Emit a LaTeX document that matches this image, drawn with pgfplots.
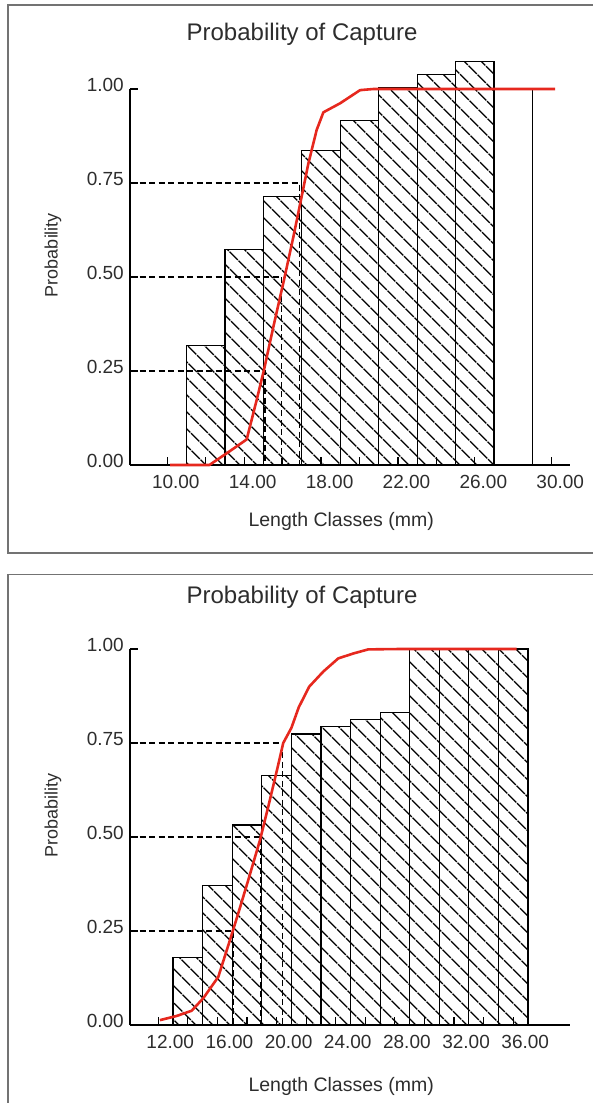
\documentclass[border=0pt]{standalone}
\usepackage{fontspec}
\setmainfont{Liberation Sans}
\usepackage{pgfplots}
\pgfplotsset{compat=1.18}
\usetikzlibrary{patterns.meta}
\definecolor{capred}{RGB}{230,40,30}
\definecolor{txt}{RGB}{45,45,45}
\pgfplotsset{
  pcap/.style={
    scale only axis, width=440pt, height=376pt,
    axis lines=left,
    axis line style={-, line width=1.6pt, black},
    ymin=0, ymax=1,
    ytick={0,0.25,0.5,0.75,1},
    clip=false,
    tick align=inside,
    major tick length=8pt, minor tick length=8pt,
    every tick/.style={black, line width=1.2pt},
    ticklabel style={font=\fontsize{19}{19}\selectfont, text=txt, inner sep=0pt},
    /pgf/number format/fixed,
    /pgf/number format/fixed zerofill,
    /pgf/number format/precision=2,
    /pgf/number format/assume math mode=true,
    yticklabel style={anchor=east, xshift=-6pt, yshift=4pt},
    title={Probability of Capture},
    title style={font=\fontsize{24}{24}\selectfont, text=txt, anchor=base, at={(axis description cs:0.391,1)}, inner sep=0pt},
    xlabel={Length Classes (mm)},
    xlabel style={font=\fontsize{19.5}{19.5}\selectfont, text=txt, anchor=base, at={(axis description cs:0.48,0)}, inner sep=0pt},
    ylabel={Probability},
    ylabel style={font=\fontsize{18}{18}\selectfont, text=txt, anchor=center, at={(axis description cs:-0.175,0.5585)}, inner sep=0pt},
  },
  hbar/.style={ybar, bar width=2, bar shift=0pt, draw=black, line width=1.2pt,
    pattern={Lines[angle=-45, distance=13pt, line width=1.5pt]}, pattern color=black},
  dsh/.style={black, line width=1.2pt, dash pattern=on 6pt off 3.5pt},
  rline/.style={capred, line width=2.6pt, line join=round},
}
\begin{document}
\begin{tikzpicture}[x=1pt,y=1pt]
\useasboundingbox (0,0) rectangle (593,-1103);
\draw[black!55, line width=1.4pt] (8,-5) rectangle (610,-553);
\draw[black!55, line width=1.4pt] (8,-574.5) rectangle (610,-1130);

% ---------------- top chart ----------------
\begin{axis}[pcap, at={(130pt,-465pt)}, anchor=south west,
  xmin=8.06, xmax=30.95,
  xtick={10,14,18,22,26,30}, minor xtick={12,16,20,24,28},
  xticklabel style={anchor=north, yshift=-10pt, xshift=8.5pt},
  title style={yshift=42.3pt},
  xlabel style={yshift=-61.5pt}]
\addplot[hbar] coordinates {(12,0.317) (14,0.574) (16,0.715) (18,0.836) (20,0.917) (22,1.003) (24,1.039) (26,1.073)};
\addplot[ybar, bar width=2, bar shift=0pt, draw=black, fill=white, line width=1.2pt] coordinates {(28,1.0)};
\addplot[dsh] coordinates {(8.06,0.25) (15.08,0.25) (15.08,0)};
\addplot[dsh] coordinates {(8.06,0.5) (15.95,0.5) (15.95,0)};
\addplot[dsh] coordinates {(8.06,0.75) (16.87,0.75) (16.87,0)};
\addplot[rline] coordinates {(10.15,0) (12.19,0) (13.2,0.035) (14.13,0.068) (14.65,0.173) (15.03,0.253) (15.52,0.368) (16.07,0.492) (16.56,0.607) (16.99,0.714) (17.34,0.802) (17.77,0.891) (18.12,0.938) (18.99,0.962) (20.03,0.997) (20.72,1.0) (30.17,1.0)};
\end{axis}

% ---------------- bottom chart ----------------
\begin{axis}[pcap, at={(130pt,-1025pt)}, anchor=south west,
  xmin=10.09, xmax=39.84,
  xtick={12,16,20,24,28,32,36}, minor xtick={14,18,22,26,30,34},
  xticklabel style={anchor=north, yshift=-10pt, xshift=12pt},
  title style={yshift=40pt},
  xlabel style={yshift=-66pt}]
\addplot[hbar] coordinates {(14,0.18) (16,0.372) (18,0.532) (20,0.664) (22,0.774) (24,0.793) (26,0.813) (28,0.832) (30,1.0) (32,1.0) (34,1.0) (36,1.0)};
\addplot[dsh] coordinates {(10.09,0.25) (17.07,0.25) (17.07,0)};
\addplot[dsh] coordinates {(10.09,0.5) (18.92,0.5) (18.92,0)};
\addplot[dsh] coordinates {(10.09,0.75) (20.4,0.75) (20.4,0)};
\addplot[rline] coordinates {(12.11,0.013) (13.24,0.024) (14.26,0.038) (15.04,0.071) (16.06,0.128) (16.85,0.226) (17.41,0.297) (18.09,0.386) (18.88,0.492) (19.44,0.581) (20.1,0.69) (20.45,0.75) (21.0,0.79) (21.5,0.845) (22.21,0.9) (23.16,0.94) (24.17,0.975) (25.18,0.988) (26.2,0.999) (28.34,1.0) (36.23,1.0)};
\end{axis}
\end{tikzpicture}
\end{document}
